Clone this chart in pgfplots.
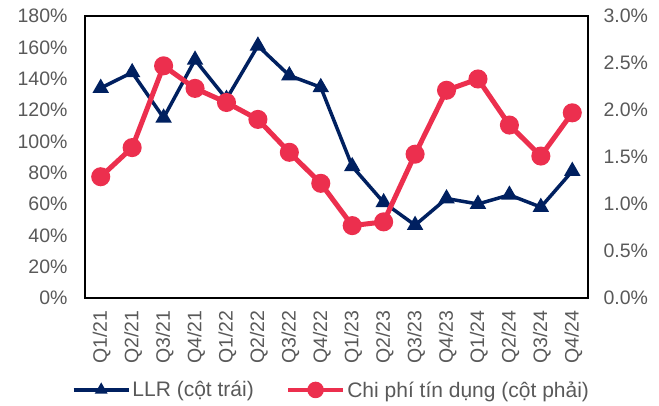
\documentclass[border=0pt]{standalone}
\usepackage{fontspec}
\setmainfont{Liberation Sans}
\usepackage{pgfplots}
\pgfplotsset{compat=1.18}
\definecolor{navy}{HTML}{002060}
\definecolor{redc}{HTML}{EC2F4E}
\definecolor{tickgrey}{HTML}{595959}
\begin{document}
\begin{tikzpicture}
\pgfplotsset{
  common/.style={
    scale only axis, width=503pt, height=282pt,
    xmin=-0.5, xmax=15.5,
    xtick={0,...,15},
    major tick length=0pt,
    tick label style={font=\fontsize{19.5}{22}\selectfont, text=tickgrey},
    /pgf/number format/assume math mode=true,
  },
  legend image code/.code={\draw[#1,mark repeat=2,mark phase=2] plot coordinates {(0pt,0pt) (27.5pt,0pt) (55pt,0pt)};},
}
\begin{axis}[common, name=ax,
  axis line style={line width=1.3pt, black},
  ymin=0, ymax=180, ytick={0,20,...,180},
  yticklabels={0\%,20\%,40\%,60\%,80\%,100\%,120\%,140\%,160\%,180\%},
  yticklabel style={xshift=-14pt},
  xticklabels={Q1/21,Q2/21,Q3/21,Q4/21,Q1/22,Q2/22,Q3/22,Q4/22,Q1/23,Q2/23,Q3/23,Q4/23,Q1/24,Q2/24,Q3/24,Q4/24},
  xticklabel style={rotate=90, anchor=east, xshift=-9pt, yshift=-1pt},
]
\addplot[navy, line width=3.5pt, mark=triangle*, mark size=6pt, mark options={solid}] coordinates {
(0,134) (1,144) (2,115) (3,152) (4,127) (5,161) (6,142) (7,134.5)
(8,84) (9,61) (10,46.5) (11,63.5) (12,60) (13,65.8) (14,58) (15,81)
};
\end{axis}
\begin{axis}[common,
  axis y line*=right, axis x line=none,
  ymin=0, ymax=3, ytick={0,0.5,...,3},
  yticklabels={0.0\%,0.5\%,1.0\%,1.5\%,2.0\%,2.5\%,3.0\%},
  yticklabel style={xshift=12pt},
  axis line style={line width=1.3pt, black},
  legend style={at={(0.49,-0.326)}, anchor=center, draw=none, fill=none,
    font=\fontsize{21}{24}\selectfont, text=tickgrey,
    legend columns=2, /tikz/every even column/.append style={column sep=30pt},
    inner sep=0pt, cells={anchor=west}},
]
\addlegendimage{navy, line width=3.5pt, mark=triangle*, mark size=4pt}
\addlegendentry{LLR (cột trái)}
\addplot[redc, line width=5pt, mark=*, mark size=7pt, mark options={solid}, forget plot] coordinates {
(0,1.29) (1,1.60) (2,2.47) (3,2.23) (4,2.08) (5,1.90) (6,1.55) (7,1.22)
(8,0.77) (9,0.81) (10,1.53) (11,2.21) (12,2.33) (13,1.84) (14,1.51) (15,1.97)
};
\addlegendimage{redc, line width=4.5pt, mark=*, mark size=6pt}
\addlegendentry{Chi phí tín dụng (cột phải)}
\end{axis}
\pgfresetboundingbox
\path ([xshift=-85pt,yshift=-107pt]ax.south west) rectangle ([xshift=71pt,yshift=16pt]ax.north east);
\end{tikzpicture}
\end{document}
